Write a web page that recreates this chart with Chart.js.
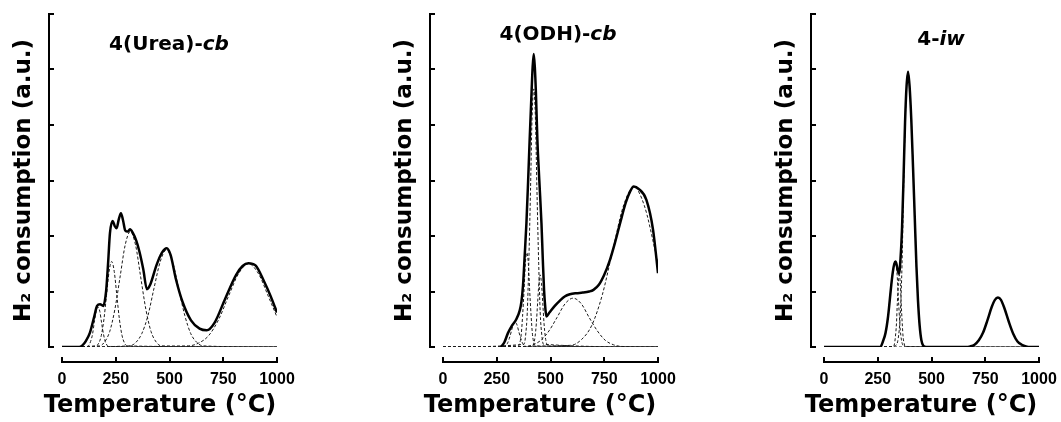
<!DOCTYPE html>
<html>
<head>
<meta charset="utf-8">
<script src="https://cdn.jsdelivr.net/npm/chart.js@4.4.0/dist/chart.umd.min.js"></script>
<style>
    body { margin: 0; background: #fff; width: 1061px; height: 422px; position: relative; overflow: hidden; font-family: 'DejaVu Sans', sans-serif; }
    canvas { position: absolute; top: 0; }
    .ttl { position: absolute; font-weight: bold; font-size: 20px; line-height: 20px; transform: translate(-50%, -50%); white-space: nowrap; color: #000; }
    .xt { position: absolute; font-weight: bold; font-size: 24px; line-height: 24px; transform: translate(-50%, -50%); white-space: nowrap; color: #000; }
</style>
</head>
<body>
<canvas id="c1" width="320" height="422" style="left:0px"></canvas>
<canvas id="c2" width="320" height="422" style="left:381px"></canvas>
<canvas id="c3" width="320" height="422" style="left:762px"></canvas>
<div class="ttl" style="left:169px;top:43px">4(Urea)-<i>cb</i></div>
<div class="ttl" style="left:558px;top:33px">4(ODH)-<i>cb</i></div>
<div class="ttl" style="left:941px;top:38px">4-<i>iw</i></div>
<div class="xt" style="left:160px;top:404px">Temperature (°C)</div>
<div class="xt" style="left:540px;top:404px">Temperature (°C)</div>
<div class="xt" style="left:921px;top:404px">Temperature (°C)</div>
<script>
// x ticks and y range
var tempTicks = [0, 250, 500, 750, 1000];
var yMax = 6;

// 4(Urea)-cb : measured profile
var ureaT = [0, 60, 80, 95, 110, 130, 150, 163, 177, 192, 205, 215, 223, 236, 245, 254, 264, 274, 284, 294, 306, 316, 330, 345, 360, 378, 395, 410, 440, 465, 487, 505, 530, 560, 600, 640, 673, 710, 760, 810, 840, 867, 900, 940, 970, 1000];
var ureaTotal = [0, 0, 0, 0.03, 0.10, 0.26, 0.55, 0.74, 0.77, 0.74, 1.00, 1.55, 2.05, 2.27, 2.18, 2.14, 2.30, 2.41, 2.28, 2.10, 2.08, 2.12, 2.05, 1.92, 1.72, 1.40, 1.04, 1.12, 1.48, 1.70, 1.78, 1.66, 1.22, 0.82, 0.48, 0.33, 0.30, 0.44, 0.88, 1.30, 1.46, 1.51, 1.47, 1.18, 0.92, 0.62];
// 4(Urea)-cb : fitted peaks
var ureaP1T = [0, 116, 125, 133, 142, 150, 159, 167, 176, 184, 193, 201, 210, 218, 1000];
var ureaP1 = [0, 0.01, 0.03, 0.10, 0.23, 0.44, 0.64, 0.72, 0.64, 0.44, 0.23, 0.10, 0.03, 0.01, 0];
var ureaP2T = [0, 159, 171, 183, 195, 207, 219, 231, 243, 255, 267, 279, 291, 303, 1000];
var ureaP2 = [0, 0.02, 0.07, 0.21, 0.50, 0.93, 1.36, 1.54, 1.36, 0.93, 0.50, 0.21, 0.07, 0.02, 0];
var ureaP3T = [0, 174, 198, 222, 246, 270, 294, 318, 342, 366, 390, 414, 438, 462, 1000];
var ureaP3 = [0, 0.02, 0.09, 0.28, 0.68, 1.26, 1.84, 2.08, 1.84, 1.26, 0.68, 0.28, 0.09, 0.02, 0];
var ureaP4T = [0, 314, 343, 371, 400, 428, 457, 485, 514, 542, 571, 599, 628, 656, 1000];
var ureaP4 = [0, 0.02, 0.08, 0.24, 0.57, 1.06, 1.54, 1.75, 1.54, 1.06, 0.57, 0.24, 0.08, 0.02, 0];
var ureaP5T = [0, 588, 635, 681, 728, 774, 821, 867, 914, 960, 1000];
var ureaP5 = [0, 0.02, 0.07, 0.20, 0.49, 0.91, 1.32, 1.50, 1.32, 0.91, 0.54];

// 4(ODH)-cb
var odhT = [270, 285, 302, 320, 341, 357, 365, 372, 380, 388, 396, 403, 412, 417, 422, 427, 432, 439, 448, 458, 464, 470, 476, 481, 495, 520, 545, 566, 590, 620, 650, 680, 700, 725, 750, 775, 800, 825, 850, 870, 887, 910, 946, 977, 1000];
var odhTotal = [0, 0.08, 0.25, 0.38, 0.50, 0.66, 0.82, 1.10, 1.65, 2.23, 3.00, 3.73, 4.60, 5.05, 5.28, 5.05, 4.60, 3.73, 3.00, 2.23, 1.60, 1.03, 0.70, 0.55, 0.62, 0.74, 0.84, 0.91, 0.95, 0.97, 0.98, 1.00, 1.03, 1.12, 1.30, 1.55, 1.88, 2.25, 2.60, 2.80, 2.89, 2.85, 2.65, 2.11, 1.33];
var odhP1T = [0, 281, 290, 299, 308, 317, 326, 335, 344, 353, 362, 371, 380, 389, 1000];
var odhP1 = [0, 0.005, 0.02, 0.06, 0.15, 0.27, 0.40, 0.45, 0.40, 0.27, 0.15, 0.06, 0.02, 0.005, 0];
var odhP2T = [0, 351, 357, 364, 370, 377, 383, 390, 397, 403, 410, 416, 423, 429, 1000];
var odhP2 = [0, 0.02, 0.07, 0.23, 0.55, 1.03, 1.50, 1.70, 1.50, 1.03, 0.55, 0.23, 0.07, 0.02, 0];
var odhP3T = [0, 377, 384, 392, 399, 407, 414, 422, 430, 437, 445, 452, 460, 467, 1000];
var odhP3 = [0, 0.05, 0.20, 0.63, 1.51, 2.82, 4.10, 4.65, 4.10, 2.82, 1.51, 0.63, 0.20, 0.05, 0];
var odhP4T = [0, 416, 422, 428, 434, 440, 446, 452, 458, 464, 470, 476, 482, 488, 1000];
var odhP4 = [0, 0.01, 0.06, 0.18, 0.42, 0.79, 1.15, 1.30, 1.15, 0.79, 0.42, 0.18, 0.06, 0.01, 0];
var odhP5T = [0, 380, 418, 455, 493, 530, 568, 605, 643, 680, 718, 755, 793, 830, 1000];
var odhP5 = [0, 0.01, 0.04, 0.12, 0.29, 0.53, 0.78, 0.88, 0.78, 0.53, 0.29, 0.12, 0.04, 0.01, 0];
var odhP6T = [0, 594, 643, 692, 741, 790, 839, 888, 937, 986, 1000];
var odhP6 = [0, 0.03, 0.13, 0.39, 0.94, 1.75, 2.54, 2.88, 2.54, 1.75, 1.50];

// 4-iw
var iwT = [0, 262, 274, 286, 298, 306, 313, 320, 327, 333, 338, 343, 349, 356, 363, 370, 377, 384, 391, 398, 406, 414, 422, 430, 437, 445, 453, 462, 475, 660, 680, 700, 720, 740, 760, 780, 795, 809, 823, 840, 860, 880, 900, 920, 940, 960, 1000];
var iwTotal = [0, 0, 0.10, 0.25, 0.55, 0.85, 1.12, 1.35, 1.50, 1.54, 1.48, 1.38, 1.32, 1.60, 2.15, 3.05, 4.05, 4.70, 4.96, 4.70, 4.10, 3.25, 2.35, 1.45, 0.85, 0.38, 0.12, 0.02, 0, 0, 0.01, 0.04, 0.12, 0.26, 0.48, 0.72, 0.85, 0.89, 0.85, 0.69, 0.45, 0.24, 0.10, 0.04, 0.01, 0, 0];
var iwP1T = [0, 262, 274, 286, 298, 306, 313, 320, 327, 333, 340, 347, 355, 365, 380, 1000];
var iwP1 = [0, 0, 0.10, 0.25, 0.55, 0.85, 1.12, 1.35, 1.50, 1.54, 1.30, 0.80, 0.30, 0.05, 0, 0];
var iwP2T = [0, 323, 328, 332, 337, 341, 346, 350, 355, 359, 364, 368, 373, 377, 1000];
var iwP2 = [0, 0.01, 0.06, 0.18, 0.42, 0.79, 1.15, 1.30, 1.15, 0.79, 0.42, 0.18, 0.06, 0.01, 0];
var iwP3T = [0, 300, 330, 345, 355, 363, 370, 377, 384, 391, 398, 406, 414, 422, 430, 437, 445, 453, 465, 480, 1000];
var iwP3 = [0, 0, 0.02, 0.15, 0.60, 1.50, 2.80, 3.95, 4.70, 4.96, 4.70, 4.10, 3.25, 2.35, 1.45, 0.85, 0.38, 0.12, 0.01, 0, 0];
var iwP4T = [0, 660, 680, 700, 720, 740, 760, 780, 795, 809, 823, 840, 860, 880, 900, 920, 940, 960, 1000];
var iwP4 = [0, 0, 0.01, 0.04, 0.12, 0.26, 0.48, 0.72, 0.85, 0.89, 0.85, 0.69, 0.45, 0.24, 0.10, 0.04, 0.01, 0, 0];

Chart.defaults.font.family = "'DejaVu Sans', sans-serif";
Chart.defaults.color = '#000';

function pts(t, v) {
    return t.map(function (x, i) { return { x: x, y: v[i] }; });
}

function solid(t, v) {
    return { data: pts(t, v), borderColor: '#000', borderWidth: 2.5, pointRadius: 0, fill: false, cubicInterpolationMode: 'monotone' };
}

function dashed(t, v) {
    return { data: pts(t, v), borderColor: '#1a1a1a', borderWidth: 1, borderDash: [3, 2], pointRadius: 0, fill: false, cubicInterpolationMode: 'monotone' };
}

// pull the axes away from the plot like the original
var detachAxes = {
    id: 'detachAxes',
    afterLayout: function (chart) {
        var y = chart.scales.y, x = chart.scales.x;
        y.left -= 13; y.right -= 13;
        x.top += 15; x.bottom += 15;
    }
};

function makeChart(id, datasets) {
    var ctx = document.getElementById(id).getContext('2d');
    return new Chart(ctx, {
        type: 'line',
        data: { datasets: datasets },
        plugins: [detachAxes],
        options: {
            responsive: false,
            animation: false,
            layout: { padding: { top: 14, right: 43, bottom: 0, left: 0 } },
            plugins: { legend: { display: false }, tooltip: { enabled: false } },
            scales: {
                x: {
                    type: 'linear', min: 0, max: 1000,
                    afterBuildTicks: function (s) { s.ticks = tempTicks.map(function (v) { return { value: v }; }); },
                    ticks: {
                        padding: 13, maxRotation: 0, autoSkip: false,
                        font: { family: "'Liberation Sans', Arial, sans-serif", size: 16, weight: 'bold' },
                        callback: function (v) { return String(v); }
                    },
                    grid: { drawOnChartArea: false, tickLength: -5, color: '#000', lineWidth: 2 },
                    border: { color: '#000', width: 2 },
                    afterFit: function (s) { s.height = 75; }
                },
                y: {
                    min: 0, max: yMax,
                    ticks: { display: false, stepSize: 1 },
                    grid: { drawOnChartArea: false, tickLength: -5, color: '#000', lineWidth: 2 },
                    border: { color: '#000', width: 2 },
                    title: { display: true, text: 'H₂ consumption (a.u.)', font: { size: 23, weight: 'bold' }, padding: { top: 23, bottom: 0 } },
                    afterFit: function (s) { s.width = 62; }
                }
            }
        }
    });
}

makeChart('c1', [
    solid(ureaT, ureaTotal),
    dashed(ureaP1T, ureaP1),
    dashed(ureaP2T, ureaP2),
    dashed(ureaP3T, ureaP3),
    dashed(ureaP4T, ureaP4),
    dashed(ureaP5T, ureaP5)
]);

makeChart('c2', [
    solid(odhT, odhTotal),
    dashed(odhP1T, odhP1),
    dashed(odhP2T, odhP2),
    dashed(odhP3T, odhP3),
    dashed(odhP4T, odhP4),
    dashed(odhP5T, odhP5),
    dashed(odhP6T, odhP6)
]);

makeChart('c3', [
    solid(iwT, iwTotal),
    dashed(iwP1T, iwP1),
    dashed(iwP2T, iwP2),
    dashed(iwP3T, iwP3),
    dashed(iwP4T, iwP4)
]);
</script>
</body>
</html>
